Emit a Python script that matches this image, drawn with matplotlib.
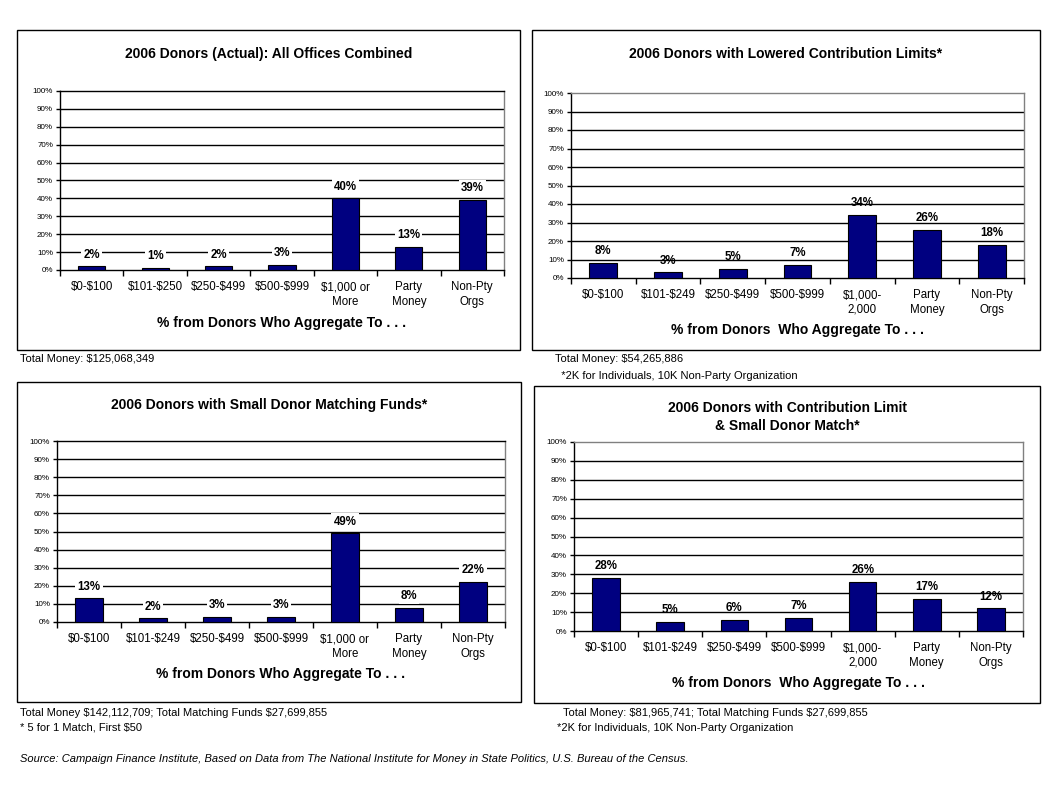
import matplotlib
matplotlib.use("Agg")
import matplotlib.pyplot as plt
from matplotlib.patches import Rectangle

# =============================================================================
# PLOT CONFIGURATION
# =============================================================================
plt.rcParams.update({
    'font.family'     : 'sans-serif',
    'font.sans-serif' : ['Liberation Sans', 'DejaVu Sans'],
    'text.parse_math' : False,
    'axes.linewidth'  : 1.0,
})

W, H = 1063, 799
BAR_COLOR = '#000080'

# --- data ------------------------------------------------------------------
CATS_A = ["$0-$100", "$101-$250", "$250-$499", "$500-$999",
          "$1,000 or\nMore", "Party\nMoney", "Non-Pty\nOrgs"]
CATS_B = ["$0-$100", "$101-$249", "$250-$499", "$500-$999",
          "$1,000-\n2,000", "Party\nMoney", "Non-Pty\nOrgs"]
CATS_C = ["$0-$100", "$101-$249", "$250-$499", "$500-$999",
          "$1,000 or\nMore", "Party\nMoney", "Non-Pty\nOrgs"]

ACTUAL = [2, 1, 2, 3, 40, 13, 39]
LOWERED = [8, 3, 5, 7, 34, 26, 18]
MATCHING = [13, 2, 3, 3, 49, 8, 22]
LIMIT_MATCH = [28, 5, 6, 7, 26, 17, 12]

TITLES = [
    "2006 Donors (Actual): All Offices Combined",
    "2006 Donors with Lowered Contribution Limits*",
    "2006 Donors with Small Donor Matching Funds*",
    "2006 Donors with Contribution Limit\n& Small Donor Match*",
]
XLABEL_A = "% from Donors Who Aggregate To . . ."
XLABEL_B = "% from Donors  Who Aggregate To . . ."

NOTES = [
    ["Total Money: $125,068,349"],
    ["Total Money: $54,265,886", "  *2K for Individuals, 10K Non-Party Organization"],
    ["Total Money $142,112,709; Total Matching Funds $27,699,855", "* 5 for 1 Match, First $50"],
    ["  Total Money: $81,965,741; Total Matching Funds $27,699,855", "*2K for Individuals, 10K Non-Party Organization"],
]
SOURCE = ("Source: Campaign Finance Institute, Based on Data from The National "
          "Institute for Money in State Politics, U.S. Bureau of the Census.")

# panel layout in pixels: box (x0, y0, x1, y1), axes (x0, y0, x1, y1)
PANELS = [
    dict(box=(17, 30, 520, 350), ax=(60, 91, 504, 270), title_y=54,
         xlabel_y=323, note_xy=[(20, 359)], cats=CATS_A, vals=ACTUAL,
         xlabel=XLABEL_A, white_labels=True, top_color='black'),
    dict(box=(532, 30, 1040, 350), ax=(571, 93, 1024, 278), title_y=54,
         xlabel_y=330, note_xy=[(555, 359), (555, 376)], cats=CATS_B, vals=LOWERED,
         xlabel=XLABEL_B, white_labels=False, top_color='#808080'),
    dict(box=(17, 382, 521, 702), ax=(57, 441, 505, 622), title_y=405,
         xlabel_y=674, note_xy=[(20, 713), (20, 728)], cats=CATS_C, vals=MATCHING,
         xlabel=XLABEL_A, white_labels=True, top_color='black'),
    dict(box=(534, 386, 1040, 703), ax=(574, 442, 1023, 631), title_y=417,
         xlabel_y=683, note_xy=[(557, 713), (557, 728)], cats=CATS_B, vals=LIMIT_MATCH,
         xlabel=XLABEL_B, white_labels=False, top_color='#808080'),
]


def fx(x):
    return x / W


def fy(y):
    return 1 - y / H


fig = plt.figure(figsize=(W / 100, H / 100), dpi=100)
fig.patch.set_facecolor('white')

for i, p in enumerate(PANELS):
    bx0, by0, bx1, by1 = p['box']
    fig.patches.append(Rectangle((fx(bx0), fy(by1)), fx(bx1 - bx0), (by1 - by0) / H,
                                 transform=fig.transFigure, fill=False,
                                 edgecolor='black', linewidth=1.0))

    ax0, ay0, ax1, ay1 = p['ax']
    ax = fig.add_axes([fx(ax0), fy(ay1), fx(ax1 - ax0), (ay1 - ay0) / H])
    n = len(p['cats'])
    xs = list(range(n))
    ax.bar(xs, p['vals'], width=0.43, color=BAR_COLOR, edgecolor='black',
           linewidth=0.8, zorder=3)

    ax.set_xlim(-0.5, n - 0.5)
    ax.set_ylim(0, 100)
    ax.set_yticks(range(0, 101, 10))
    ax.set_yticklabels([f"{v}%" for v in range(0, 101, 10)], fontsize=5.8)
    for g in range(10, 100, 10):
        ax.axhline(g, color='black', linewidth=1.0, zorder=1)

    # category labels centred, ticks at the boundaries
    ax.set_xticks(xs)
    ax.set_xticklabels(p['cats'], fontsize=8.3, linespacing=1.3)
    ax.tick_params(axis='x', length=0, pad=8)
    ax.set_xticks([k + 0.5 for k in range(-1, n)], minor=True)
    ax.tick_params(axis='x', which='minor', length=4, direction='out', width=1.0)
    ax.tick_params(axis='y', length=3, direction='out', width=1.0, pad=2)

    ax.spines['right'].set_color('#808080')
    ax.spines['top'].set_color(p['top_color'])

    for x, v in zip(xs, p['vals']):
        bbox = dict(facecolor='white', edgecolor='none', pad=1.5) if p['white_labels'] else None
        ax.annotate(f"{v}%", (x, v), xytext=(0, 8.5), textcoords='offset points',
                    ha='center', va='center', fontsize=8.3, fontweight='bold',
                    bbox=bbox, zorder=4)

    # title, centred on the box
    fig.text(fx((bx0 + bx1) / 2), fy(p['title_y']), TITLES[i], ha='center', va='center',
             fontsize=10, fontweight='bold', linespacing=1.3)

    # axis label, centred on the axes
    fig.text(fx((ax0 + ax1) / 2), fy(p['xlabel_y']), p['xlabel'], ha='center', va='center',
             fontsize=10, fontweight='bold')

    for (nx, ny), note in zip(p['note_xy'], NOTES[i]):
        fig.text(fx(nx), fy(ny), note, ha='left', va='center', fontsize=8)

fig.text(fx(20), fy(759), SOURCE, ha='left', va='center', fontsize=8, style='italic')

fig.savefig("out.png", dpi=100)
